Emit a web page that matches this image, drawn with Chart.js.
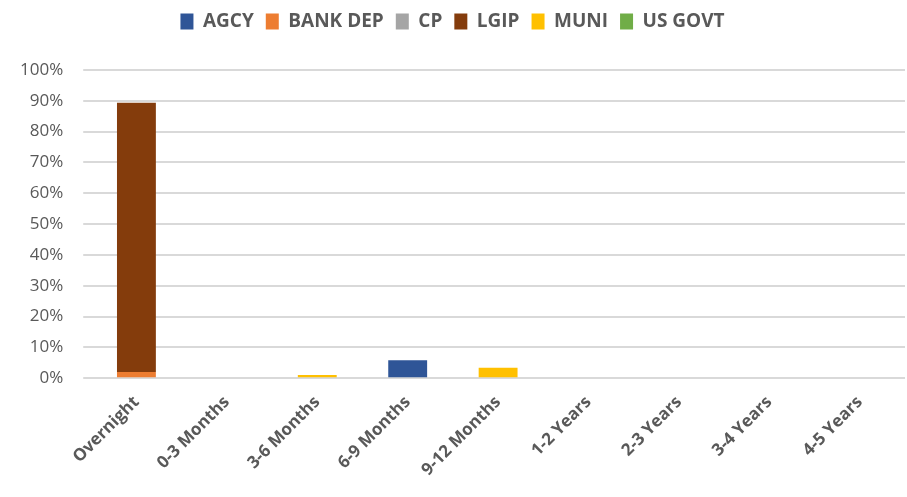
<!DOCTYPE html>
<html>
<head>
<meta charset="utf-8">
<script src="https://cdn.jsdelivr.net/npm/chart.js@4"></script>
<style>
  html, body { margin: 0; padding: 0; background: #fff; }
  #wrap { width: 907px; height: 497px; }
</style>
</head>
<body>
<div id="wrap"><canvas id="maturityChart"></canvas></div>
<script>
const categories = ['Overnight', '0-3 Months', '3-6 Months', '6-9 Months', '9-12 Months', '1-2 Years', '2-3 Years', '3-4 Years', '4-5 Years'];
const agcy    = [0, 0, 0, 5.8, 0, 0, 0, 0, 0];
const bankDep = [2.0, 0, 0, 0, 0, 0, 0, 0, 0];
const cp      = [0, 0, 0, 0, 0, 0, 0, 0, 0];
const lgip    = [87.4, 0, 0, 0, 0, 0, 0, 0, 0];
const muni    = [0, 0, 1.0, 0, 3.4, 0, 0, 0, 0];
const usGovt  = [0, 0, 0, 0, 0, 0, 0, 0, 0];

const ds = (label, data, color) => ({
  label, data, backgroundColor: color,
  categoryPercentage: 1, barPercentage: 0.43
});

// push the plot down below the legend
const legendGap = {
  id: 'legendGap',
  beforeInit(chart) {
    const fit = chart.legend.fit;
    chart.legend.fit = function () {
      fit.bind(chart.legend)();
      this.height += 29;
    };
  }
};

const ctx = document.getElementById('maturityChart');
new Chart(ctx, {
  type: 'bar',
  data: {
    labels: categories,
    datasets: [
      ds('AGCY', agcy, '#2f5597'),
      ds('BANK DEP', bankDep, '#ed7d31'),
      ds('CP', cp, '#a5a5a5'),
      ds('LGIP', lgip, '#843c0c'),
      ds('MUNI', muni, '#ffc000'),
      ds('US GOVT', usGovt, '#70ad47')
    ]
  },
  options: {
    responsive: true,
    maintainAspectRatio: false,
    animation: false,
    layout: { padding: { left: 0, right: 2, top: 0, bottom: 11 } },
    plugins: {
      legend: {
        position: 'top',
        labels: {
          boxWidth: 13, boxHeight: 16, padding: 12,
          color: '#595959',
          font: { family: 'Open Sans', size: 19, weight: 'bold' }
        }
      },
      tooltip: { enabled: false }
    },
    scales: {
      x: {
        stacked: true,
        grid: { display: false },
        border: { display: false },
        ticks: {
          color: '#595959', maxRotation: 45, minRotation: 45, padding: 6,
          font: { family: 'Open Sans', size: 17, weight: 'bold' }
        }
      },
      y: {
        stacked: true,
        min: 0, max: 100,
        grid: { color: '#d9d9d9', lineWidth: 2 },
        border: { display: false },
        ticks: {
          stepSize: 10, padding: 20,
          color: '#595959',
          font: { family: 'Open Sans', size: 17 },
          callback: v => v + '%'
        }
      }
    }
  },
  plugins: [legendGap]
});
</script>
</body>
</html>
